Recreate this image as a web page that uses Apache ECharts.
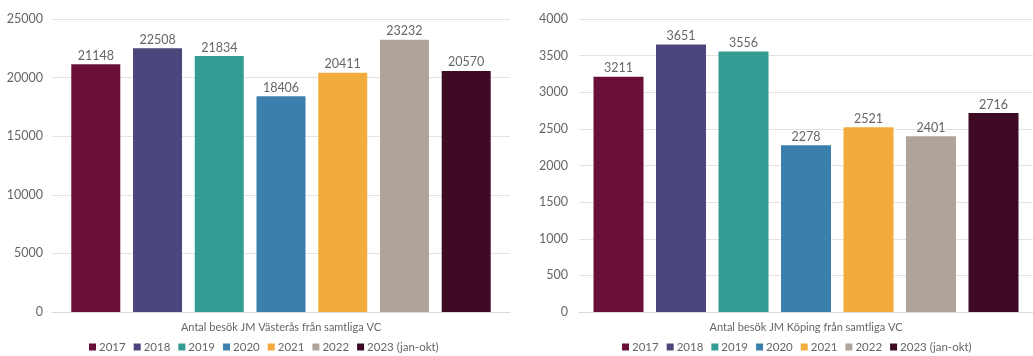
<!DOCTYPE html>
<html>
<head>
<meta charset="utf-8">
<script src="https://cdn.jsdelivr.net/npm/echarts@6/dist/echarts.min.js"></script>
<style>
  html, body { margin: 0; padding: 0; background: #fff; }
  #chart { width: 1033px; height: 356px; }
</style>
</head>
<body>
<div id="chart"></div>
<script>
// årtal (serier) och färger
const years = ['2017', '2018', '2019', '2020', '2021', '2022', '2023 (jan-okt)']
const colors = ['#6a1038', '#4b477c', '#349c93', '#3b80ad', '#f4ab3d', '#b0a49a', '#3e0a24']

// kategorier
const catVasteras = ['Antal besök JM Västerås från samtliga VC']
const catKoping = ['Antal besök JM Köping från samtliga VC']

// värden
const vasteras = [21148, 22508, 21834, 18406, 20411, 23232, 20570]
const koping = [3211, 3651, 3556, 2278, 2521, 2401, 2716]

const FONT = 'Lato, "Open Sans", sans-serif'
const TXT = '#666666'
const NUM = 12.5

function barSeries(values, idx, barWidth, gap) {
  return years.map((y, i) => ({
    name: y,
    type: 'bar',
    xAxisIndex: idx,
    yAxisIndex: idx,
    barWidth: barWidth,
    barGap: gap,
    itemStyle: { color: colors[i] },
    label: {
      show: true,
      position: 'top',
      distance: 2,
      color: TXT,
      fontFamily: FONT,
      fontSize: NUM
    },
    data: [values[i]]
  }))
}

function legendAt(left) {
  return {
    left: left, top: 341, padding: 0,
    itemWidth: 7, itemHeight: 7, itemGap: 8,
    icon: 'rect',
    textStyle: { color: TXT, fontSize: 11.5, fontFamily: FONT, padding: [0, 0, 0, -2] },
    data: years
  }
}

function valueAxis(idx, max, step, margin) {
  return {
    type: 'value', gridIndex: idx, min: 0, max: max, interval: step,
    axisLine: { show: false }, axisTick: { show: false },
    splitLine: { lineStyle: { color: '#e3e3e3' } },
    axisLabel: {
      color: TXT, fontSize: NUM, fontFamily: FONT, margin: margin,
      formatter: (v) => String(v)
    }
  }
}

function catAxis(idx, data) {
  return {
    type: 'category', gridIndex: idx, data: data,
    axisLine: { lineStyle: { color: '#d9d9d9' } },
    axisTick: { show: false },
    axisLabel: { color: TXT, fontSize: 11, fontFamily: FONT, margin: 10 }
  }
}

const option = {
  animation: false,
  textStyle: { fontFamily: FONT },
  grid: [
    { left: 52, top: 19, width: 458, height: 293 },
    { left: 579, top: 19, width: 464, height: 293 }
  ],
  legend: [legendAt(89), legendAt(622)],
  xAxis: [catAxis(0, catVasteras), catAxis(1, catKoping)],
  yAxis: [valueAxis(0, 25000, 5000, 9), valueAxis(1, 4000, 500, 11)],
  series: [
    ...barSeries(vasteras, 0, 49, '26%'),
    ...barSeries(koping, 1, 50, '25%')
  ]
}

const chart = echarts.init(document.getElementById('chart'))
chart.setOption(option)
</script>
</body>
</html>
